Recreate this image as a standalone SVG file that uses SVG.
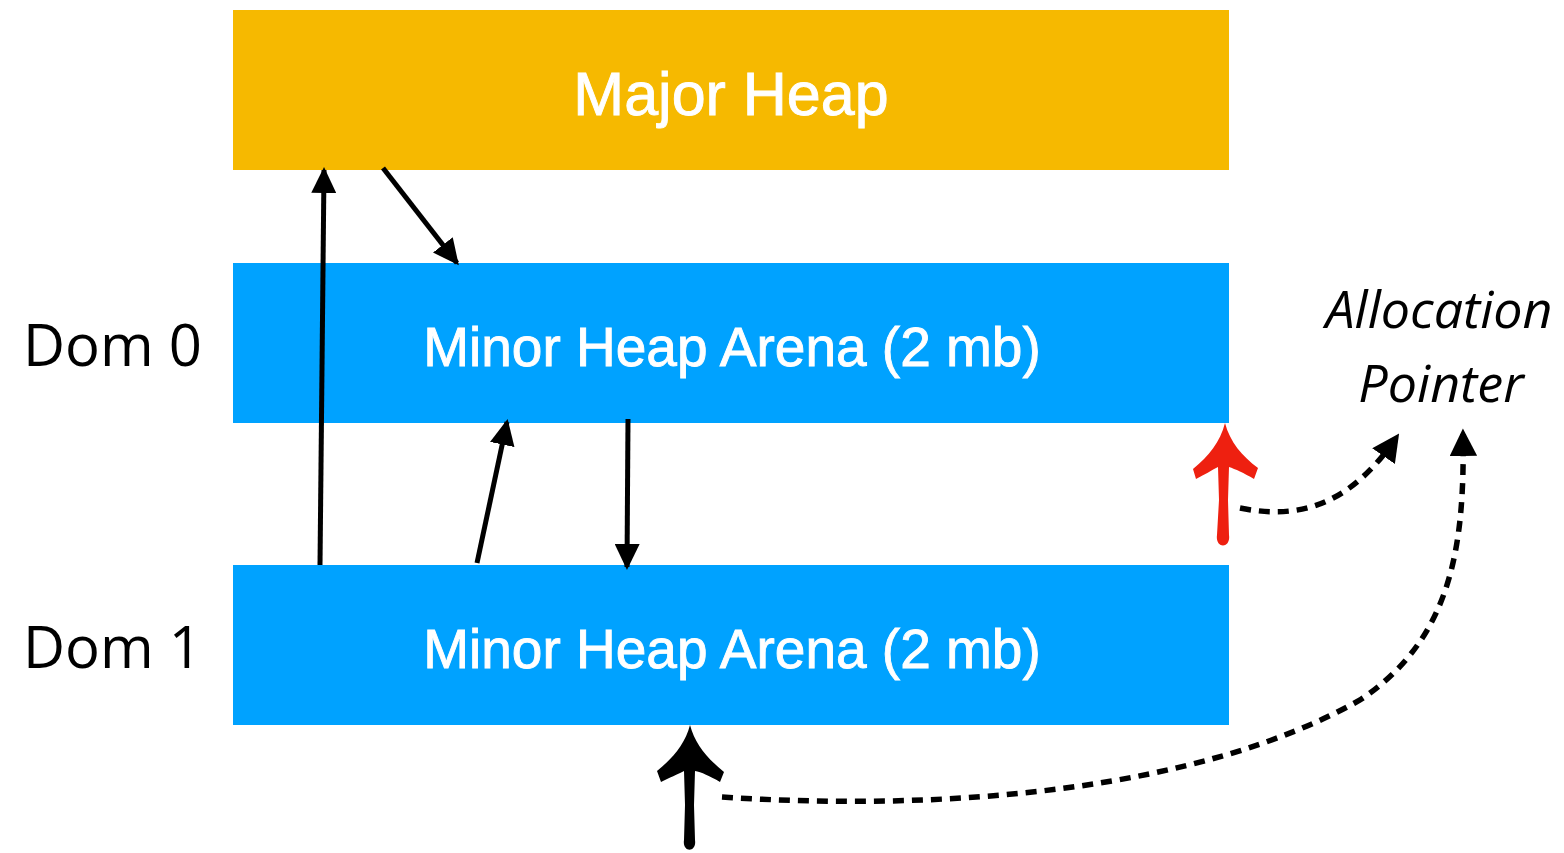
<svg xmlns="http://www.w3.org/2000/svg" width="1564" height="853" viewBox="0 0 1564 853">
<style>
.box-text{font-family:"Liberation Sans",Arial,sans-serif;font-size:55px;fill:#fff;stroke:#fff;stroke-width:0.9;text-anchor:middle}
.major{font-size:61px}
.dom{font-family:"Open Sans","Liberation Sans",sans-serif;font-size:58px;fill:#000}
.ap{font-family:"Open Sans","Liberation Sans",sans-serif;font-style:italic;font-size:52px;fill:#000;text-anchor:middle}
.conn{stroke:#000;stroke-width:5;fill:none;marker-end:url(#ah)}
.dot{stroke:#000;stroke-width:5.5;fill:none;stroke-dasharray:11 8;marker-end:url(#ah2)}
</style>
<defs>
<marker id="ah" markerWidth="5.2" markerHeight="5" refX="4.6" refY="2.5" orient="auto" markerUnits="strokeWidth"><path d="M0,0 L5.2,2.5 L0,5 Z" fill="#000"/></marker>
<marker id="ah2" markerWidth="5" markerHeight="5" refX="4" refY="2.5" orient="auto" markerUnits="strokeWidth"><path d="M0,0 L5,2.5 L0,5 Z" fill="#000"/></marker>
</defs>
<rect width="1564" height="853" fill="#fff"/>
<g id="major-heap"><rect x="233" y="10" width="996" height="160" fill="#F6B900"/><text class="box-text major" x="731" y="115">Major Heap</text></g>
<g id="minor-heap-0"><rect x="233" y="263" width="996" height="160" fill="#00A2FF"/><text class="box-text" x="732" y="366">Minor Heap Arena (2 mb)</text></g>
<g id="minor-heap-1"><rect x="233" y="565" width="996" height="160" fill="#00A2FF"/><text class="box-text" x="732" y="668">Minor Heap Arena (2 mb)</text></g>
<g id="dom0"><text class="dom" x="23" y="366">Dom 0</text></g>
<g id="dom1"><text class="dom" x="23" y="668">Dom 1</text></g>
<g id="alloc-label"><text class="ap" x="1439" y="328">Allocation</text><text class="ap" x="1441" y="402">Pointer</text></g>
<g id="red-pointer"><path d="M1225,423 C1230,442 1242,456 1258,468 L1254,479 C1244,473 1235,469 1229,467 L1228,500 L1229,535 C1231,549 1215,549 1217,535 L1219,500 L1218,467 C1212,470 1204,475 1196,479 L1193,469 C1209,456 1220,442 1225,423 Z" fill="#EE2010"/></g>
<g id="black-pointer"><path d="M690,725 C695,744 707,758 724,772 L720,782 C710,776 701,772 695,771 L694,805 L695,840 C697,853 682,853 684,840 L685,805 L684,771 C678,774 669,778 661,782 L657,771 C673,758 685,744 690,725 Z" fill="#000"/></g>
<g id="connectors">
<line class="conn" x1="320" y1="565" x2="324" y2="170"/>
<line class="conn" x1="383" y1="168" x2="457" y2="263"/>
<line class="conn" x1="477" y1="563" x2="507" y2="422"/>
<line class="conn" x1="628" y1="419" x2="627" y2="567"/>
<path class="dot" d="M1240,508 C1300,520 1350,505 1396,438"/>
<path class="dot" d="M722,797 C950,812 1200,790 1360,700 C1450,640 1465,550 1463,434"/>
</g>
</svg>
